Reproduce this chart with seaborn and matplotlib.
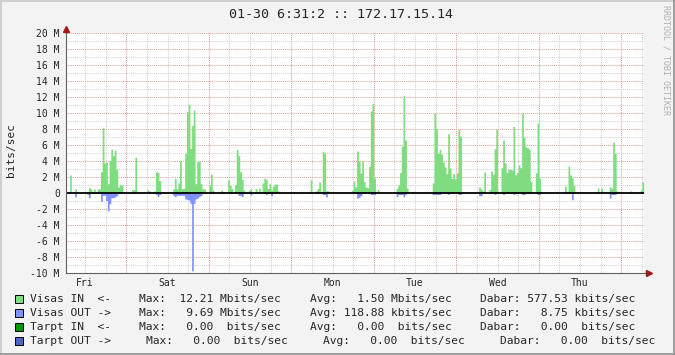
import numpy as np
import pandas as pd
import matplotlib
matplotlib.use("Agg")
import matplotlib.pyplot as plt
from matplotlib.patches import Rectangle
import seaborn as sns

# ------------------------------------------------------------------
# Data: 30-minute averages in Mbit/s (OUT values drawn below zero)
# ------------------------------------------------------------------
# Friday 06:30 - 24:00 (35 half-hour bins)
fri_a_in = [0, 0, 2.3, 0, 0, 0.55, 0, 0, 0, 0,
            0, 0, 0.2, 0.7, 0.55, 0.2, 0.55, 0.2, 0.55, 0.55,
            2.7, 8.2, 3.8, 3.9, 1.2, 4.1, 5.5, 4.7, 5.4, 3.0,
            0.8, 1.05, 1.05, 0, 0]
fri_a_out = [0, 0, 0, 0, 0, -0.45, 0, 0, 0, 0,
             0, 0, -0.15, -0.55, 0, 0, 0, 0, 0, 0,
             -1.0, -0.25, -0.25, -0.9, -2.2, -1.3, -0.55, -0.55, -0.45, -0.3,
             0, 0, 0, 0, 0]
sat_in = [0, 0, 0, 0.45, 0.45, 4.5, 0, 0, 0, 0,
          0, 0, 0.45, 0.3, 0, 0, 0.3, 2.7, 2.6, 1.6,
          0, 0, 0, 0, 0, 0, 0, 0.55, 1.85, 0.55,
          1.3, 4.1, 0.55, 0.6, 5.0, 10.2, 11.1, 5.6, 8.5, 10.4,
          1.2, 4.0, 4.0, 1.2, 0.55, 0.55, 0, 0]
sat_out = [0, 0, 0, 0, 0, 0, 0, 0, 0, 0,
           0, 0, 0, 0, 0, 0, 0, -0.15, -0.4, -0.15,
           0, 0, 0, 0, 0, 0, 0, -0.25, -0.4, -0.25,
           -0.25, -0.25, -0.25, -0.25, -0.7, -0.75, -0.85, -1.25, -9.69, -1.25,
           -0.7, -0.6, -0.4, -0.25, 0, 0, 0, 0]
sun_in = [1.0, 2.4, 0.4, 0, 0, 0, 0, 0.4, 0.15, 0,
          0, 1.7, 1.0, 0.6, 0, 1.1, 5.5, 4.7, 2.7, 1.75,
          0.4, 0, 0, 0.4, 0.55, 0.15, 0.2, 0.6, 0, 0.65,
          0.15, 1.3, 1.9, 1.75, 0.6, 1.2, 0.4, 0.9, 1.15, 1.15,
          0.3, 0.15, 0, 0, 0, 0, 0, 0]
sun_out = [0, 0, 0, 0, 0, 0, 0, 0, 0, 0,
           0, 0, 0, 0, 0, 0, 0, -0.25, -0.25, -0.4,
           0, 0, 0, 0, -0.2, 0, 0, 0, 0, 0,
           0, 0, 0, -0.15, 0, 0, -0.3, 0, 0, 0,
           0, 0, 0, 0, 0, 0, 0, 0]
mon_in = [0, 0, 0, 0, 0, 0, 0, 0, 0, 0,
          0, 1.7, 0, 0, 0.3, 0.6, 1.4, 0.15, 5.25, 5.0,
          0.3, 0.3, 0, 0, 0, 0, 0, 0, 0, 0,
          0, 0, 0, 0, 0, 0.4, 1.55, 0.8, 5.3, 4.05,
          2.55, 4.0, 1.45, 0.8, 0.7, 3.4, 10.3, 11.25]
mon_out = [0, 0, 0, 0, 0, 0, 0, 0, 0, 0,
           0, 0, 0, 0, 0, 0, 0, 0, -0.15, -0.15,
           -0.45, 0, 0, 0, 0, 0, 0, 0, 0, 0,
           0, 0, 0, 0, 0, 0, 0, 0, -0.6, -0.5,
           -0.3, 0, 0, 0, 0, 0, -0.15, -0.15]
tue_in = [1.9, 0, 0.5, 0, 0, 0, 0, 0, 0, 0,
          0, 0, 0, 0.65, 1.05, 2.6, 5.9, 12.21, 6.65, 0.65,
          0, 0, 0, 0, 0, 0, 0, 0, 0, 0,
          0, 0, 0, 0, 1.3, 10.0, 8.1, 5.0, 5.5, 4.9,
          3.9, 3.3, 2.45, 7.45, 3.15, 1.85, 2.45, 1.8]
tue_out = [-0.15, 0, 0, 0, 0, 0, 0, 0, 0, 0,
           0, 0, 0, -0.4, -0.15, -0.15, -0.15, -0.45, -0.15, 0,
           0, 0, 0, 0, 0, 0, 0, 0, 0, 0,
           0, 0, 0, 0, -0.15, -0.15, -0.15, -0.15, -0.15, 0,
           0, 0, 0, -0.15, 0, 0, 0, 0]
wed_in = [2.55, 8.0, 7.15, 0, 0, 0, 0, 0, 0, 0,
          0, 0, 0, 0.8, 0.55, 0.3, 2.65, 0, 0, 0.5,
          2.8, 2.4, 5.55, 8.0, 0, 0, 3.2, 6.65, 3.8, 2.6,
          3.0, 3.0, 2.9, 8.35, 2.3, 2.6, 3.55, 3.2, 10.0, 7.0,
          5.8, 5.7, 5.5, 1.45, 0.2, 0, 2.55, 8.8]
wed_out = [0, -0.15, -0.15, 0, 0, 0, 0, 0, 0, 0,
           0, 0, 0, -0.3, -0.3, 0, 0, 0, 0, 0,
           0, 0, -0.15, 0, 0, 0, 0, -0.15, 0, 0,
           0, 0, 0, -0.15, 0, 0, 0, 0, -0.15, -0.15,
           0, 0, 0, 0, 0, 0, 0, -0.15]
thu_in = [1.9, 0.15, 0, 0, 0, 0, 0, 0, 0, 0,
          0, 0, 0, 0, 0, 0.9, 0.15, 3.4, 2.3, 1.95,
          1.0, 0, 0, 0, 0, 0, 0, 0, 0, 0,
          0, 0, 0, 0.15, 0.65, 0, 0.65, 0, 0, 0,
          0, 0.8, 0.65, 6.4, 5.0, 0.3, 0, 0]
thu_out = [-0.15, 0, 0, 0, 0, 0, 0, 0, 0, 0,
           0, 0, 0, 0, 0, 0, 0, 0, 0, -0.8,
           0, 0, 0, 0, 0, 0, 0, 0, 0, 0,
           0, 0, 0, 0, 0, 0, 0, 0, 0, 0,
           0, -0.6, -0.15, -0.15, -0.15, 0, 0, 0]
# Friday 00:00 - 06:30 (13 half-hour bins)
fri_b_in = [0, 0, 0, 0, 0, 0.3, 0, 0, 0, 0, 0, 0.4, 1.4]
fri_b_out = [0, 0, 0, 0, 0, 0, 0, 0, 0, 0, 0, 0, 0]

days_in = [fri_a_in, sat_in, sun_in, mon_in, tue_in, wed_in, thu_in, fri_b_in]
days_out = [fri_a_out, sat_out, sun_out, mon_out, tue_out, wed_out, thu_out, fri_b_out]

day_labels = ["Fri", "Sat", "Sun", "Mon", "Tue", "Wed", "Thu"]
day_noon = [-12, 12, 36, 60, 84, 108, 132]          # hours from Sat 00:00
y_ticks = [-10, -8, -6, -4, -2, 0, 2, 4, 6, 8, 10, 12, 14, 16, 18, 20]
y_tick_labels = ["-10 M", "-8 M", "-6 M", "-4 M", "-2 M", "0", "2 M", "4 M",
                 "6 M", "8 M", "10 M", "12 M", "14 M", "16 M", "18 M", "20 M"]

title = "01-30 6:31:2 :: 172.17.15.14"
legend_rows = [
    "Visas IN  <-    Max:  12.21 Mbits/sec    Avg:   1.50 Mbits/sec    Dabar: 577.53 kbits/sec",
    "Visas OUT ->    Max:   9.69 Mbits/sec    Avg: 118.88 kbits/sec    Dabar:   8.75 kbits/sec",
    "Tarpt IN  <-    Max:   0.00  bits/sec    Avg:   0.00  bits/sec    Dabar:   0.00  bits/sec",
    "Tarpt OUT ->     Max:   0.00  bits/sec     Avg:   0.00  bits/sec     Dabar:   0.00  bits/sec",
]
C_IN, C_OUT = "#80DC80", "#8092FF"
legend_colors = [C_IN, C_OUT, "#009900", "#4F66C4"]

# ------------------------------------------------------------------
sns.set_theme(style="white")
plt.rcParams["font.family"] = ["DejaVu Sans Mono", "DejaVu Sans"]
plt.rcParams["axes.unicode_minus"] = False

W, H = 675, 355
fig = plt.figure(figsize=(W / 100, H / 100), dpi=100)
fig.patch.set_facecolor("#F3F3F3")

L, R, T, B = 66.2, 643.7, 33.3, 273.3
ax = fig.add_axes([L / W, 1 - B / H, (R - L) / W, (B - T) / H])
ax.set_facecolor("white")

t_first, step = -17.5, 0.5
in_vals = np.concatenate([np.asarray(d, float) for d in days_in])
out_vals = np.concatenate([np.asarray(d, float) for d in days_out])
n = in_vals.size
edges = t_first + step * np.arange(n + 1)
centers = edges[:-1] + step / 2
df = pd.DataFrame({
    "t": np.concatenate([centers, centers]),
    "v": np.concatenate([in_vals, out_vals]),
    "s": ["Visas IN"] * n + ["Visas OUT"] * n,
})

GRID, MGRID = "#D2D2D2", "#E3A0A0"
grid_hours = np.arange(-12, 151, 6)
for h in grid_hours:
    ax.axvline(h, color=MGRID if h % 24 == 0 else GRID, lw=0.75,
               ls=(0, (1, 1)), zorder=1)
for v in range(-9, 21):
    if v == 0:
        continue
    ax.axhline(v, color=MGRID if v % 2 == 0 else GRID, lw=0.75,
               ls=(0, (1, 1)), zorder=1)

sns.histplot(data=df, x="t", weights="v", hue="s",
             hue_order=["Visas IN", "Visas OUT"],
             palette={"Visas IN": C_IN, "Visas OUT": C_OUT},
             bins=[float(e) for e in edges], element="step", fill=True,
             alpha=1.0, linewidth=0, legend=False, ax=ax, zorder=3)

ax.axhline(0, color="black", lw=1.3, zorder=5)

ax.set_xlim(-17.48, 150.52)
ax.set_ylim(-10, 20)
ax.set_xlabel("")
ax.set_ylabel("")
ax.set_xticks(day_noon, day_labels)
ax.set_xticks(grid_hours, minor=True)
ax.set_yticks(y_ticks, y_tick_labels)
ax.set_yticks(range(-10, 21), minor=True)
ax.tick_params(axis="x", which="major", length=0, pad=3.5, labelsize=7)
ax.tick_params(axis="x", which="minor", length=2.2, width=0.7,
               color="#A8A8A8", direction="inout")
for tk, h in zip(ax.xaxis.get_minor_ticks(), grid_hours):
    if h % 24 == 0:
        tk.tick1line.set_color("#E08080")
ax.tick_params(axis="y", which="both", length=1.6, width=0.7, color="#707070",
               direction="out", pad=3.0, labelsize=7)

for s in ["top", "right"]:
    ax.spines[s].set_visible(False)
for s in ["left", "bottom"]:
    ax.spines[s].set_color("#606060")
    ax.spines[s].set_linewidth(0.8)
    ax.spines[s].set_zorder(6)

# axis extensions with arrow heads
ax.plot([0, 0], [1, 1.016], transform=ax.transAxes, clip_on=False,
        color="#606060", lw=0.8, zorder=6)
ax.plot([0], [1.019], transform=ax.transAxes, clip_on=False, marker="^",
        ms=4, color="#A01818", mec="#A01818", zorder=7)
ax.plot([1, 1.006], [0, 0], transform=ax.transAxes, clip_on=False,
        color="#606060", lw=0.8, zorder=6)
ax.plot([1.0085], [0], transform=ax.transAxes, clip_on=False, marker=">",
        ms=4, color="#A01818", mec="#A01818", zorder=7)

# texts
fig.text(341 / W, 1 - 14 / H, title, ha="center", va="center", fontsize=9.6)
fig.text(11 / W, 1 - 150 / H, "bits/sec", rotation=90, ha="center",
         va="center", fontsize=8)
fig.text(666 / W, 1 - 5 / H, "RRDTOOL / TOBI OETIKER", rotation=270,
         ha="center", va="top", fontsize=6, color="#B0B0B0")

# legend: monospace grid of 6.81 px per character starting at x = 30.5
CHAR_W, X0 = 6.81, 30.5
for i, (row, col) in enumerate(zip(legend_rows, legend_colors)):
    yc = 299.3 + 14 * i
    fig.add_artist(Rectangle((15 / W, 1 - (yc + 4) / H), 8 / W, 8 / H,
                             transform=fig.transFigure, facecolor=col,
                             edgecolor="black", lw=0.7))
    cuts = [0, row.index("Max:"), row.index("Avg:"), row.index("Dabar:"), len(row)]
    for a, b in zip(cuts[:-1], cuts[1:]):
        fig.text((X0 + a * CHAR_W) / W, 1 - yc / H, row[a:b].rstrip(),
                 ha="left", va="center", fontsize=8.15)

# 3D frame
fig.add_artist(Rectangle((0, 1 - 2 / H), 1, 2 / H, transform=fig.transFigure,
                         facecolor="#CFCFCF", lw=0))
fig.add_artist(Rectangle((0, 0), 2 / W, 1, transform=fig.transFigure,
                         facecolor="#CFCFCF", lw=0))
fig.add_artist(Rectangle((0, 0), 1, 2 / H, transform=fig.transFigure,
                         facecolor="#9E9E9E", lw=0))
fig.add_artist(Rectangle((1 - 2 / W, 0), 2 / W, 1, transform=fig.transFigure,
                         facecolor="#9E9E9E", lw=0))

fig.savefig("out.png", dpi=100, facecolor=fig.get_facecolor())
